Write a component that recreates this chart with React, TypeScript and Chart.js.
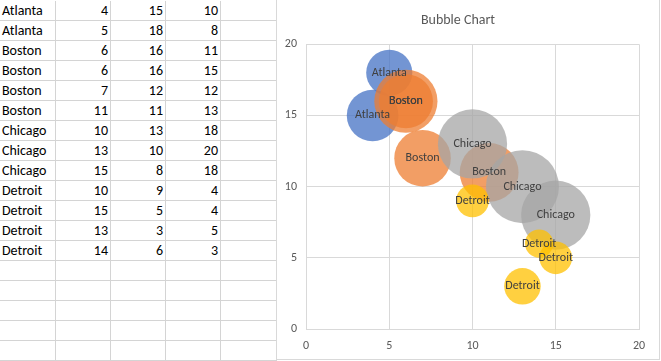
import React, { useEffect, useRef } from "react";
import { Chart, registerables } from "chart.js";

Chart.register(...registerables);

// ---- data ----
const cities = ["Atlanta", "Atlanta", "Boston", "Boston", "Boston", "Boston", "Chicago", "Chicago", "Chicago", "Detroit", "Detroit", "Detroit", "Detroit"];
const xValues = [4, 5, 6, 6, 7, 11, 10, 13, 15, 10, 15, 13, 14];
const yValues = [15, 18, 16, 16, 12, 11, 13, 10, 8, 9, 5, 3, 6];
const sizes = [10, 8, 11, 15, 12, 13, 18, 20, 18, 4, 4, 5, 3];
const seriesNames = ["Atlanta", "Boston", "Chicago", "Detroit"];
const seriesColors = ["rgba(68,114,196,0.75)", "rgba(237,125,49,0.75)", "rgba(165,165,165,0.75)", "rgba(255,192,0,0.75)"];
const axisMin = 0;
const axisMax = 20;
const axisStep = 5;
const chartTitle = "Bubble Chart";
const blankRows = 5;

const FONT = "Carlito, Calibri, Lato, sans-serif";
const MAX_R = 36.5;
const GRID = "#d9d9d9";
const CELL_LINE = "#d4d4d4";
const colLines = [-1, 55, 110, 165, 220, 276];
const ROW_H = 20;

const labelPlugin = {
  id: "bubbleLabels",
  afterDatasetsDraw(chart: any) {
    const ctx = chart.ctx;
    ctx.save();
    ctx.font = `12px ${FONT}`;
    ctx.fillStyle = "#404040";
    ctx.textAlign = "center";
    ctx.textBaseline = "middle";
    chart.data.datasets.forEach((ds: any, i: number) => {
      const meta = chart.getDatasetMeta(i);
      meta.data.forEach((el: any) => {
        ctx.fillText(ds.label, el.x, el.y);
      });
    });
    ctx.restore();
  },
};

function BubbleChart() {
  const ref = useRef<HTMLCanvasElement | null>(null);
  useEffect(() => {
    if (!ref.current) return;
    const maxSize = Math.max(...sizes);
    const datasets = seriesNames.map((name, si) => ({
      label: name,
      order: seriesNames.length - si,
      backgroundColor: seriesColors[si],
      borderWidth: 0,
      hoverBorderWidth: 0,
      data: cities
        .map((c, i) => ({ c, i }))
        .filter((o) => o.c === name)
        .map(({ i }) => ({ x: xValues[i], y: yValues[i], r: MAX_R * Math.sqrt(sizes[i] / maxSize) })),
    }));
    const tickStyle = { color: "#595959", font: { family: FONT, size: 12 } };
    const chart = new Chart(ref.current, {
      type: "bubble",
      data: { datasets },
      plugins: [labelPlugin],
      options: {
        animation: false,
        responsive: false,
        events: [],
        layout: { autoPadding: false, padding: { left: 0, right: 20, top: 0, bottom: 0 } },
        plugins: {
          legend: { display: false },
          tooltip: { enabled: false },
          title: {
            display: true,
            text: chartTitle,
            color: "#595959",
            font: { family: FONT, size: 14, weight: "normal" },
            padding: { top: 12, bottom: 15.5 },
          },
        },
        scales: {
          x: {
            type: "linear",
            min: axisMin,
            max: axisMax,
            ticks: { ...tickStyle, stepSize: axisStep, padding: 10 },
            grid: { color: GRID, drawTicks: false },
            border: { color: GRID },
            afterFit: (s: any) => {
              s.height = 30;
            },
          },
          y: {
            type: "linear",
            min: axisMin,
            max: axisMax,
            ticks: { ...tickStyle, stepSize: axisStep, padding: 9 },
            grid: { color: GRID, drawTicks: false },
            border: { color: GRID },
            afterFit: (s: any) => {
              s.width = 29;
            },
          },
        },
      },
    } as any);
    return () => chart.destroy();
  }, []);
  return <canvas ref={ref} width={382} height={359} style={{ display: "block", width: 382, height: 359 }} />;
}

function Sheet() {
  const rows: (string | number)[][] = cities.map((c, i) => [c, xValues[i], yValues[i], sizes[i], ""]);
  for (let k = 0; k < blankRows; k++) rows.push(["", "", "", "", ""]);
  const cells: React.ReactNode[] = [];
  rows.forEach((row, r) => {
    row.forEach((v, c) => {
      const left = colLines[c] + 1;
      const width = colLines[c + 1] - colLines[c];
      cells.push(
        <div
          key={`${r}-${c}`}
          style={{
            position: "absolute",
            left,
            top: r * ROW_H + 1,
            width,
            height: ROW_H,
            boxSizing: "border-box",
            borderRight: `1px solid ${CELL_LINE}`,
            borderBottom: `1px solid ${CELL_LINE}`,
            fontFamily: FONT,
            fontSize: 14,
            lineHeight: "19px",
            color: "#000",
            textAlign: c === 0 ? "left" : "right",
            paddingLeft: c === 0 ? 2 : 0,
            paddingRight: c === 0 ? 0 : 2,
            whiteSpace: "nowrap",
            overflow: "hidden",
          }}
        >
          {v}
        </div>
      );
    });
  });
  return <>{cells}</>;
}

export default function App() {
  return (
    <div style={{ position: "fixed", left: 0, top: 0, width: 661, height: 361, overflow: "hidden", background: "#fff" }}>
      <Sheet />
      <div
        style={{
          position: "absolute",
          left: 276,
          top: 0,
          width: 384,
          height: 360,
          boxSizing: "border-box",
          borderLeft: `1px solid ${GRID}`,
          borderRight: `1px solid ${GRID}`,
          borderBottom: `1px solid ${GRID}`,
          background: "#fff",
        }}
      >
        <BubbleChart />
      </div>
    </div>
  );
}
